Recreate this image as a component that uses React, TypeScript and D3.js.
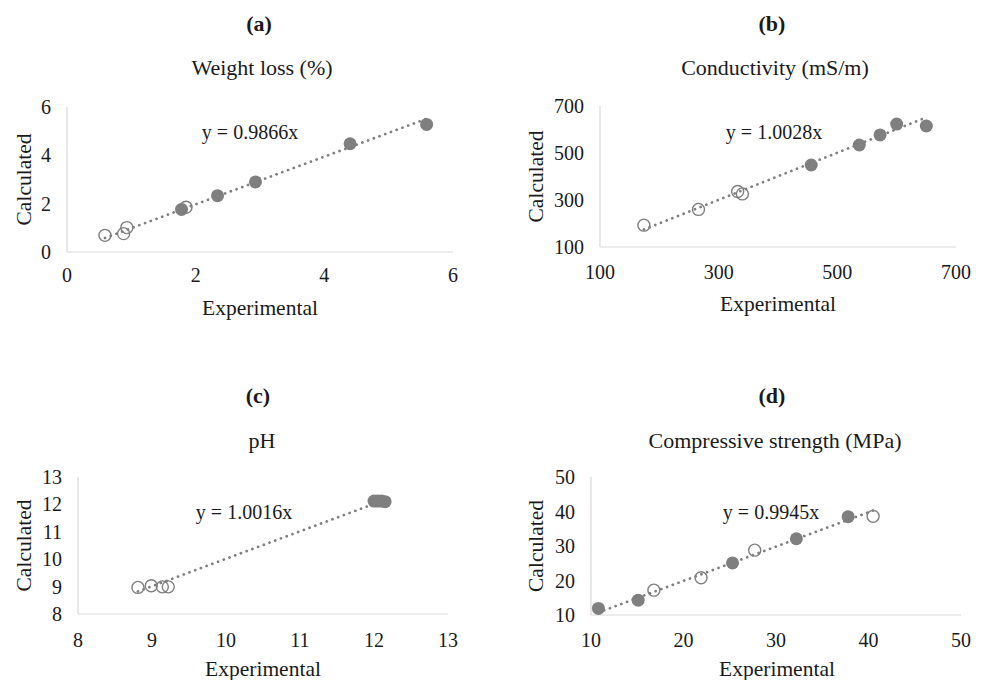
import React, { useEffect, useRef } from 'react'
import * as d3 from 'd3'

// panel (a) weight loss
const weightOpenX = [0.59, 0.88, 0.93, 1.85]
const weightOpenY = [0.69, 0.76, 1.01, 1.85]
const weightFillX = [1.78, 2.34, 2.93, 4.40, 5.59]
const weightFillY = [1.76, 2.33, 2.90, 4.48, 5.28]
const weightTicks = [0, 2, 4, 6]

// panel (b) conductivity
const condOpenX = [174, 266, 332, 340]
const condOpenY = [193, 260, 336, 326]
const condFillX = [456, 537, 572, 600, 650]
const condFillY = [449, 534, 577, 623, 615]
const condTicks = [100, 300, 500, 700]

// panel (c) pH
const phOpenX = [8.81, 8.99, 9.14, 9.22]
const phOpenY = [8.97, 9.03, 8.99, 8.99]
const phFillX = [12.0, 12.05, 12.1, 12.15]
const phFillY = [12.12, 12.12, 12.12, 12.1]
const phTicksX = [8, 9, 10, 11, 12, 13]
const phTicksY = [8, 9, 10, 11, 12, 13]

// panel (d) compressive strength
const csOpenX = [16.8, 21.9, 27.7, 40.5]
const csOpenY = [17.2, 20.8, 28.8, 38.6]
const csFillX = [10.8, 15.1, 25.3, 32.2, 37.8]
const csFillY = [11.9, 14.3, 25.1, 32.1, 38.5]
const csTicks = [10, 20, 30, 40, 50]

const labels = ['(a)', '(b)', '(c)', '(d)']
const titles = ['Weight loss (%)', 'Conductivity (mS/m)', 'pH', 'Compressive strength (MPa)']
const slopes = [0.9866, 1.0028, 1.0016, 0.9945]

const panels = [
    { openX: weightOpenX, openY: weightOpenY, fillX: weightFillX, fillY: weightFillY, ticksX: weightTicks, ticksY: weightTicks,
      box: { l: 67, r: 453, t: 107, b: 252 }, head: [259, 262, 23, 67], eq: [250, 132], yl: 23, xl: [260, 307], tl: 275 },
    { openX: condOpenX, openY: condOpenY, fillX: condFillX, fillY: condFillY, ticksX: condTicks, ticksY: condTicks,
      box: { l: 600, r: 956, t: 106, b: 247 }, head: [772, 775, 23, 67], eq: [774, 132], yl: 535, xl: [778, 303], tl: 272 },
    { openX: phOpenX, openY: phOpenY, fillX: phFillX, fillY: phFillY, ticksX: phTicksX, ticksY: phTicksY,
      box: { l: 78, r: 448, t: 477, b: 614 }, head: [258, 262, 395, 440], eq: [244, 512], yl: 23, xl: [263, 668], tl: 640 },
    { openX: csOpenX, openY: csOpenY, fillX: csFillX, fillY: csFillY, ticksX: csTicks, ticksY: csTicks,
      box: { l: 591, r: 961, t: 477, b: 615 }, head: [772, 775, 395, 440], eq: [771, 512], yl: 535, xl: [777, 668], tl: 640 },
]

const FONT = "'Liberation Serif', 'Times New Roman', serif"
const GREY = '#7f7f7f'
const TEXT = '#1a1a1a'

function App() {
    const ref = useRef(null)

    useEffect(() => {
        const svg = d3.select(ref.current)
        svg.selectAll('*').remove()

        panels.forEach((p, k) => {
            const g = svg.append('g')
            const x = d3.scaleLinear()
                .domain([p.ticksX[0], p.ticksX[p.ticksX.length - 1]])
                .range([p.box.l, p.box.r])
            const y = d3.scaleLinear()
                .domain([p.ticksY[0], p.ticksY[p.ticksY.length - 1]])
                .range([p.box.b, p.box.t])

            // headings
            g.append('text')
                .attr('x', p.head[0]).attr('y', p.head[2]).attr('dy', '.35em')
                .attr('text-anchor', 'middle')
                .style('font-family', FONT).style('font-size', '22px').style('font-weight', 'bold')
                .attr('fill', TEXT)
                .text(labels[k])
            g.append('text')
                .attr('x', p.head[1]).attr('y', p.head[3]).attr('dy', '.35em')
                .attr('text-anchor', 'middle')
                .style('font-family', FONT).style('font-size', '22px')
                .attr('fill', TEXT)
                .text(titles[k])

            // axis lines
            g.append('line')
                .attr('x1', p.box.l).attr('x2', p.box.l)
                .attr('y1', p.box.t).attr('y2', p.box.b)
                .attr('stroke', '#d9d9d9').attr('stroke-width', 1.2)
            g.append('line')
                .attr('x1', p.box.l).attr('x2', p.box.r)
                .attr('y1', p.box.b).attr('y2', p.box.b)
                .attr('stroke', '#d9d9d9').attr('stroke-width', 1.2)

            // tick labels
            g.selectAll('text.xt').data(p.ticksX).enter()
                .append('text').attr('class', 'xt')
                .attr('x', (d) => x(d)).attr('y', p.tl).attr('dy', '.35em')
                .attr('text-anchor', 'middle')
                .style('font-family', FONT).style('font-size', '20px')
                .attr('fill', TEXT)
                .text((d) => d)
            g.selectAll('text.yt').data(p.ticksY).enter()
                .append('text').attr('class', 'yt')
                .attr('x', p.box.l - 16).attr('y', (d) => y(d)).attr('dy', '.35em')
                .attr('text-anchor', 'end')
                .style('font-family', FONT).style('font-size', '20px')
                .attr('fill', TEXT)
                .text((d) => d)

            // axis titles
            g.append('text')
                .attr('x', p.xl[0]).attr('y', p.xl[1]).attr('dy', '.35em')
                .attr('text-anchor', 'middle')
                .style('font-family', FONT).style('font-size', '21.5px')
                .attr('fill', TEXT)
                .text('Experimental')
            g.append('text')
                .attr('transform', `translate(${p.yl},${(p.box.t + p.box.b) / 2}) rotate(-90)`)
                .attr('dy', '.35em')
                .attr('text-anchor', 'middle')
                .style('font-family', FONT).style('font-size', '21.5px')
                .attr('fill', TEXT)
                .text('Calculated')

            // trend line through origin, over the data range
            const allX = p.openX.concat(p.fillX)
            const xs = [d3.min(allX), d3.max(allX)]
            const line = d3.line().x((d) => x(d)).y((d) => y(d * slopes[k]))
            g.append('path')
                .attr('d', line(xs))
                .attr('fill', 'none')
                .attr('stroke', GREY).attr('stroke-width', 2.7)
                .attr('stroke-linecap', 'round')
                .attr('stroke-dasharray', '0.1 6')

            // markers
            g.selectAll('circle.open').data(p.openX).enter()
                .append('circle').attr('class', 'open')
                .attr('cx', (d) => x(d)).attr('cy', (d, i) => y(p.openY[i]))
                .attr('r', 6)
                .attr('fill', 'none').attr('stroke', GREY).attr('stroke-width', 1.4)
            g.selectAll('circle.fill').data(p.fillX).enter()
                .append('circle').attr('class', 'fill')
                .attr('cx', (d) => x(d)).attr('cy', (d, i) => y(p.fillY[i]))
                .attr('r', 6.5)
                .attr('fill', GREY)

            // equation
            g.append('text')
                .attr('x', p.eq[0]).attr('y', p.eq[1]).attr('dy', '.35em')
                .attr('text-anchor', 'middle')
                .style('font-family', FONT).style('font-size', '20px')
                .attr('fill', TEXT)
                .text(`y = ${slopes[k].toFixed(4)}x`)
        })
    }, [])

    return (
        <div style={{ position: 'absolute', left: 0, top: 0 }}>
            <svg ref={ref} width={984} height={680} style={{ display: 'block', background: '#fff' }}></svg>
        </div>
    )
}

export default App
